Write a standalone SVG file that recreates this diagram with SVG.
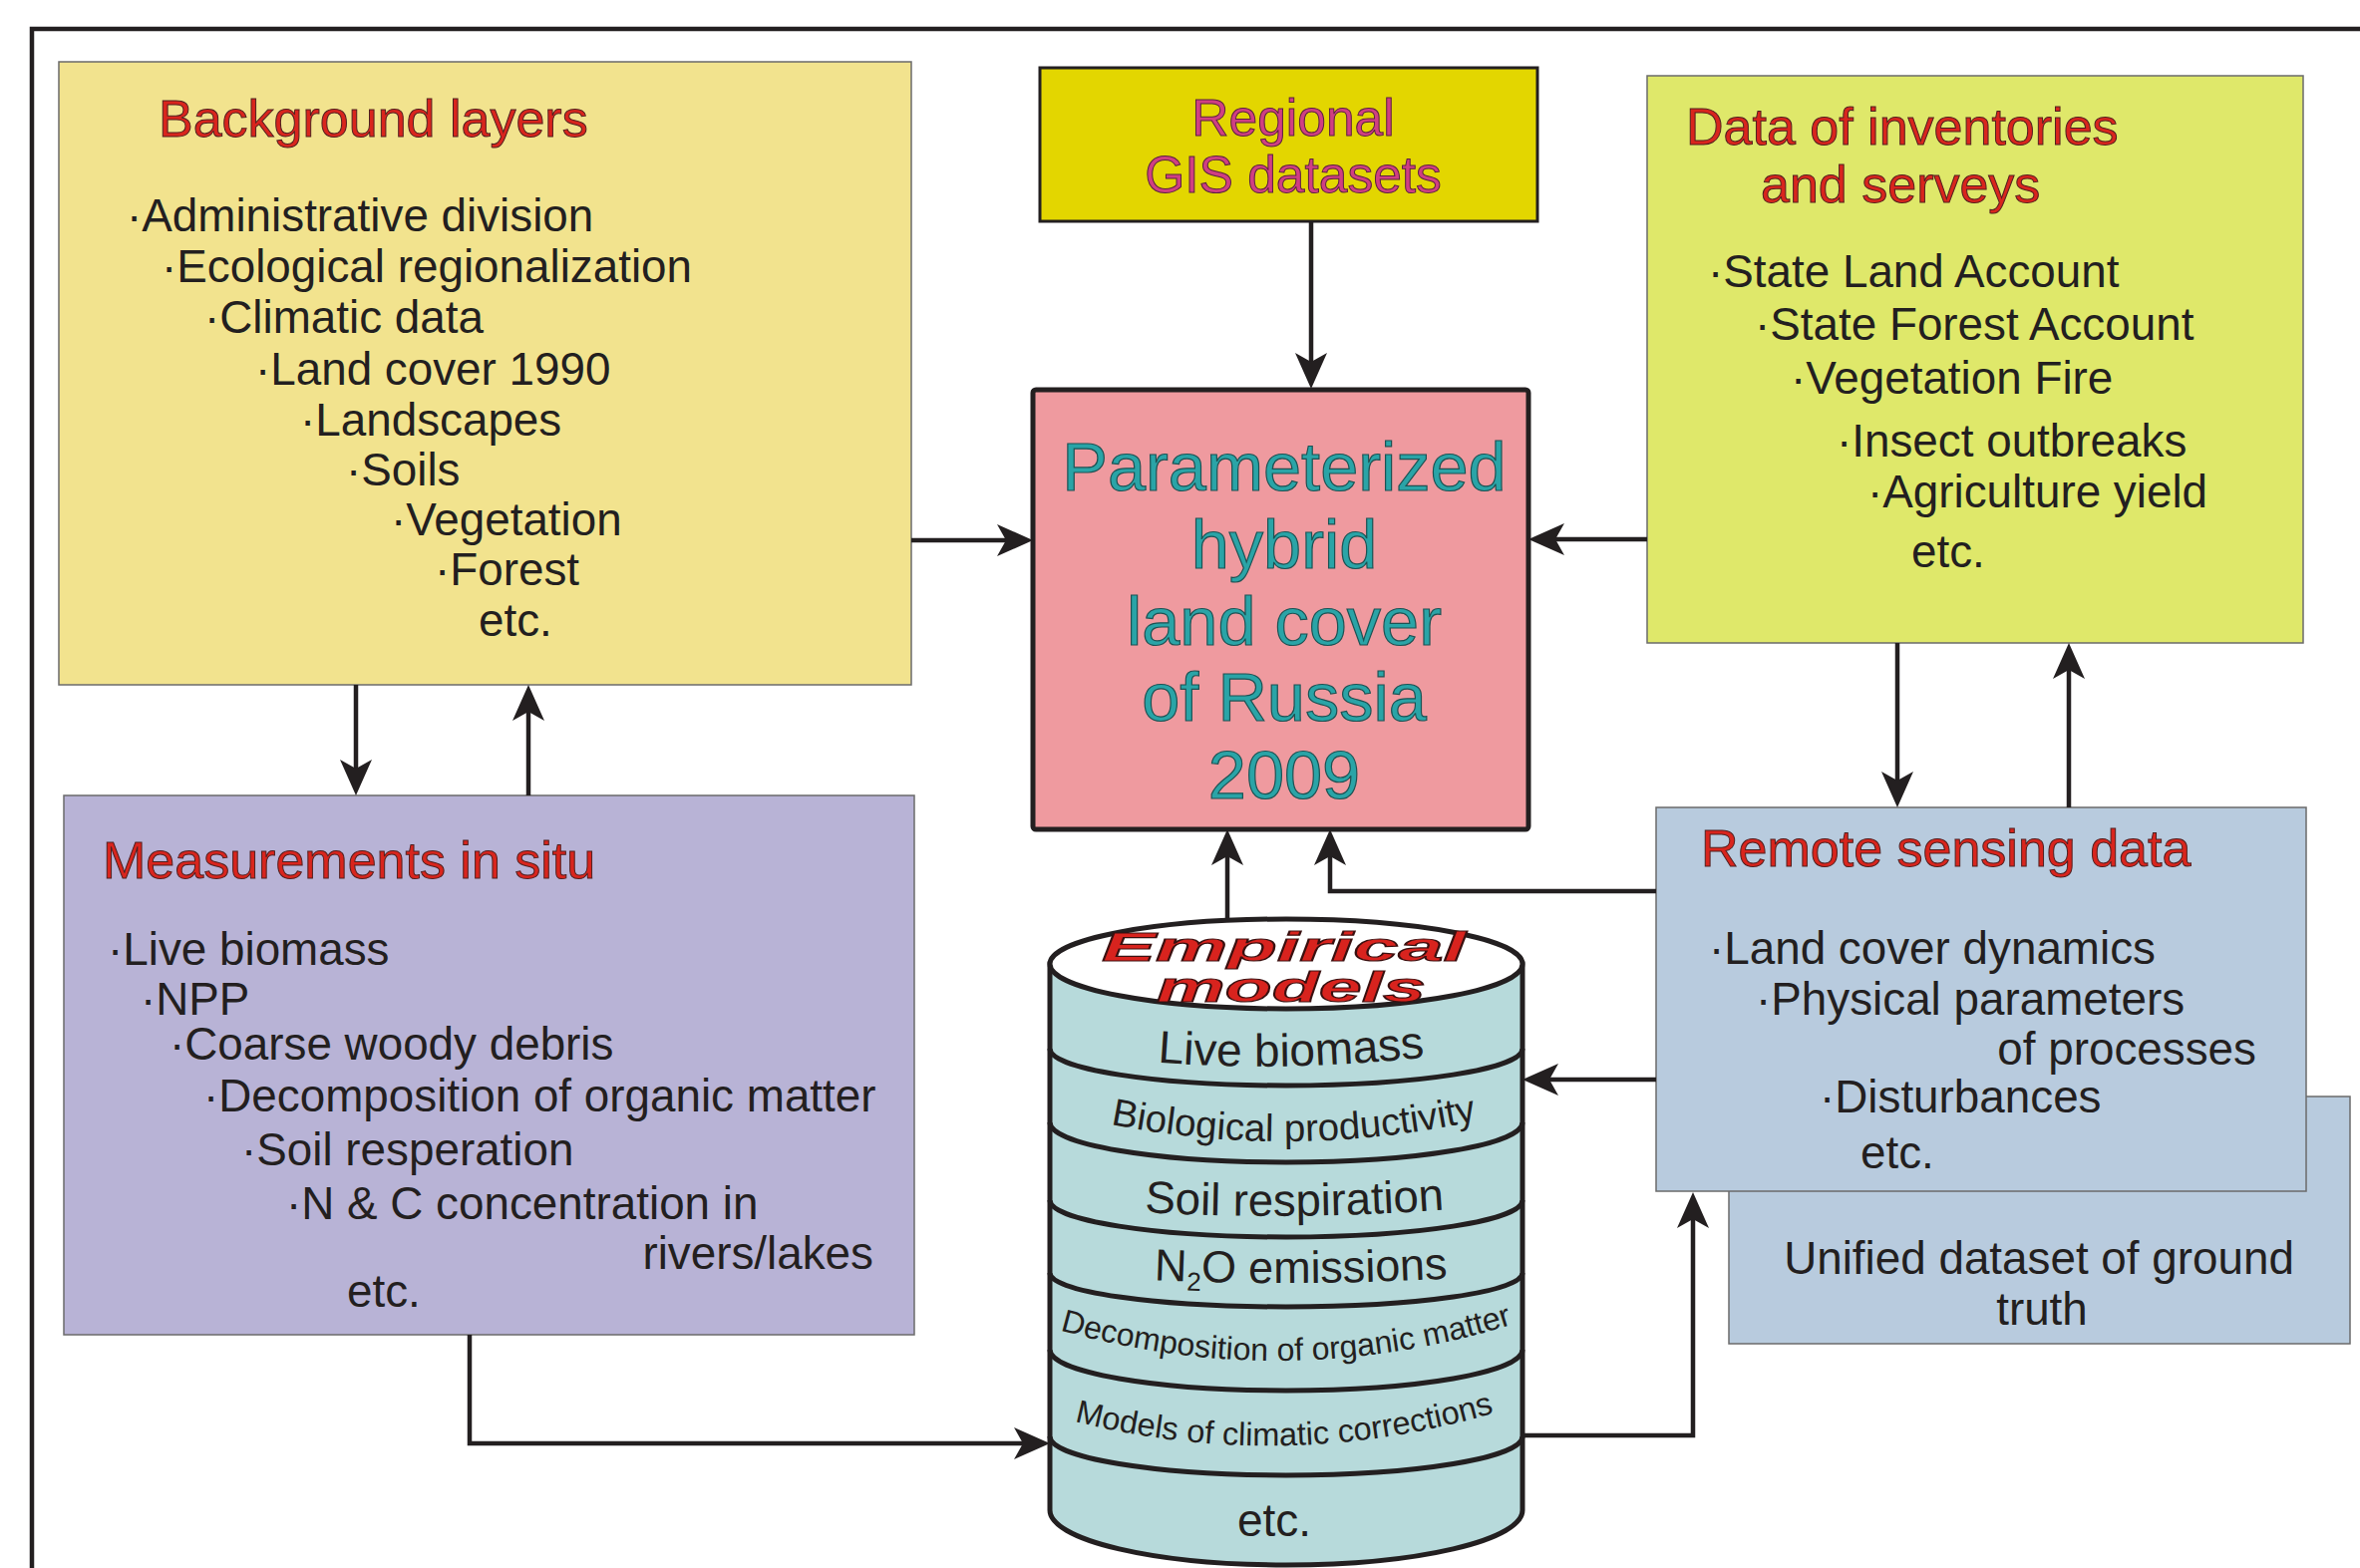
<svg xmlns="http://www.w3.org/2000/svg" width="2367" height="1573" viewBox="0 0 2367 1573">
<style>
.t{font-family:"Liberation Sans",Arial,sans-serif;fill:#231F20}
.title{font-size:52px;fill:#D9251D;stroke:#4d1f1f;stroke-width:1}
.item{font-size:45.8px}
.item45{font-size:45.8px}
.thin{stroke:#6b6b6b;stroke-width:1.5}
.conn{fill:none;stroke:#231F20;stroke-width:4.5}
.cyl{stroke:#231F20;stroke-width:5}
.sep{fill:none;stroke:#231F20;stroke-width:5}
.ctr{font-size:68.5px;fill:#2AA4A7;stroke:#1d5253;stroke-width:1.2;text-anchor:middle}
.gis{font-size:51.5px;fill:#D03F82;stroke:#5a2040;stroke-width:1;text-anchor:middle}
.emp{font-weight:bold;font-style:italic;fill:#D8231E;stroke:#3a1010;stroke-width:1.2}
</style>
<defs>
<marker id="ah" markerUnits="userSpaceOnUse" viewBox="-38 -18 40 36" markerWidth="40" markerHeight="36" refX="-12" refY="0" orient="auto">
<path d="M0,0 L-36,-16 L-27,0 L-36,16 Z" fill="#231F20"/>
</marker>
<path id="p-live" d="M1140,1064 Q1290,1078 1450,1058"/>
<path id="p-bio" d="M1095,1124 Q1297,1168 1500,1120"/>
<path id="p-soil" d="M1126,1215 Q1296,1226 1471,1212"/>
<path id="p-n2o" d="M1130,1283 Q1300,1292 1480,1281"/>
<path id="p-dec" d="M1058,1333 Q1290,1400 1522,1327"/>
<path id="p-mod" d="M1066,1423 Q1288,1482 1510,1414"/>
</defs>

<rect id="frame" x="32" y="29" width="2400" height="1600" fill="none" stroke="#231F20" stroke-width="4.5"/>

<g id="background-layers">
<rect x="59" y="62" width="855" height="625" fill="#F2E38E" class="thin"/>
<text class="t title" x="159" y="137">Background layers</text>
<text class="t item" x="127" y="232">·Administrative division</text>
<text class="t item" x="162" y="283">·Ecological regionalization</text>
<text class="t item" x="205" y="334">·Climatic data</text>
<text class="t item" x="256" y="386">·Land cover 1990</text>
<text class="t item" x="301" y="437">·Landscapes</text>
<text class="t item" x="347" y="487">·Soils</text>
<text class="t item" x="392" y="537">·Vegetation</text>
<text class="t item" x="436" y="587">·Forest</text>
<text class="t item" x="480" y="638">etc.</text>
</g>

<g id="regional-gis">
<rect x="1043" y="68" width="499" height="154" fill="#E3D600" stroke="#231F20" stroke-width="3"/>
<text class="t gis" x="1297" y="136">Regional</text>
<text class="t gis" x="1297" y="193">GIS datasets</text>
</g>

<g id="inventories">
<rect x="1652" y="76" width="658" height="569" fill="#DFE86A" class="thin"/>
<text class="t title" x="1691" y="145">Data of inventories</text>
<text class="t title" x="1766" y="203">and serveys</text>
<text class="t item" x="1713" y="288">·State Land Account</text>
<text class="t item" x="1760" y="341">·State Forest Account</text>
<text class="t item" x="1796" y="395">·Vegetation Fire</text>
<text class="t item" x="1842" y="458">·Insect outbreaks</text>
<text class="t item" x="1873" y="509">·Agriculture yield</text>
<text class="t item" x="1917" y="569">etc.</text>
</g>

<g id="land-cover">
<rect x="1036" y="391" width="497" height="441" rx="3" fill="#EF9A9F" stroke="#231F20" stroke-width="5"/>
<text class="t ctr" x="1288" y="492">Parameterized</text>
<text class="t ctr" x="1288" y="570">hybrid</text>
<text class="t ctr" x="1288" y="647">land cover</text>
<text class="t ctr" x="1288" y="723">of Russia</text>
<text class="t ctr" x="1288" y="801">2009</text>
</g>

<g id="measurements">
<rect x="64" y="798" width="853" height="541" fill="#B8B3D6" class="thin"/>
<text class="t title" x="103" y="881">Measurements in situ</text>
<text class="t item45" x="108" y="968">·Live biomass</text>
<text class="t item45" x="141" y="1018">·NPP</text>
<text class="t item45" x="170" y="1063">·Coarse woody debris</text>
<text class="t item45" x="204" y="1115">·Decomposition of organic matter</text>
<text class="t item45" x="242" y="1169">·Soil resperation</text>
<text class="t item45" x="287" y="1223">·N &amp; C concentration in</text>
<text class="t item45" x="876" y="1273" text-anchor="end">rivers/lakes</text>
<text class="t item45" x="348" y="1311">etc.</text>
</g>

<g id="ground-truth">
<rect x="1734" y="1100" width="623" height="248" fill="#B8CBDE" class="thin"/>
<text class="t item45" x="2045" y="1278" text-anchor="middle">Unified dataset of ground</text>
<text class="t item45" x="2048" y="1329" text-anchor="middle">truth</text>
</g>

<g id="remote-sensing">
<rect x="1661" y="810" width="652" height="385" fill="#B8CBDE" class="thin"/>
<text class="t title" x="1706" y="869">Remote sensing data</text>
<text class="t item45" x="1714" y="967">·Land cover dynamics</text>
<text class="t item45" x="1761" y="1018">·Physical parameters</text>
<text class="t item45" x="2263" y="1068" text-anchor="end">of processes</text>
<text class="t item45" x="1825" y="1116">·Disturbances</text>
<text class="t item45" x="1866" y="1172">etc.</text>
</g>

<g id="empirical-models">
<path class="cyl" d="M1053,967 V1515 A237,55 0 0 0 1527,1515 V967 Z" fill="#B7DADB"/>
<ellipse class="cyl" cx="1290" cy="967" rx="237" ry="45" fill="#FFFFFF"/>
<path class="sep" d="M1053,1052 A237,37 0 0 0 1527,1052"/>
<path class="sep" d="M1053,1126 A237,40 0 0 0 1527,1126"/>
<path class="sep" d="M1053,1204 A237,37 0 0 0 1527,1204"/>
<path class="sep" d="M1053,1277 A237,34 0 0 0 1527,1277"/>
<path class="sep" d="M1053,1354 A237,41 0 0 0 1527,1354"/>
<path class="sep" d="M1053,1441 A237,39 0 0 0 1527,1441"/>
<text class="t emp" x="1105" y="964" font-size="40" textLength="365" lengthAdjust="spacingAndGlyphs">Empirical</text>
<text class="t emp" x="1160" y="1005" font-size="42" textLength="270" lengthAdjust="spacingAndGlyphs">models</text>
<text class="t" font-size="46"><textPath href="#p-live" startOffset="50%" text-anchor="middle">Live biomass</textPath></text>
<text class="t" font-size="38.5"><textPath href="#p-bio" startOffset="50%" text-anchor="middle">Biological productivity</textPath></text>
<text class="t" font-size="45.5"><textPath href="#p-soil" startOffset="50%" text-anchor="middle">Soil respiration</textPath></text>
<text class="t" font-size="45"><textPath href="#p-n2o" startOffset="50%" text-anchor="middle">N<tspan font-size="26" dy="9">2</tspan><tspan dy="-9">O emissions</tspan></textPath></text>
<text class="t" font-size="32"><textPath href="#p-dec" startOffset="50%" text-anchor="middle">Decomposition of organic matter</textPath></text>
<text class="t" font-size="32.5"><textPath href="#p-mod" startOffset="50%" text-anchor="middle">Models of climatic corrections</textPath></text>
<text class="t" font-size="46" x="1278" y="1541" text-anchor="middle">etc.</text>
</g>

<g id="connectors">
<path class="conn" d="M1315,222 V378" marker-end="url(#ah)"/>
<path class="conn" d="M914,542 H1024" marker-end="url(#ah)"/>
<path class="conn" d="M1652,541 H1545" marker-end="url(#ah)"/>
<path class="conn" d="M357,687 V786" marker-end="url(#ah)"/>
<path class="conn" d="M530,798 V699" marker-end="url(#ah)"/>
<path class="conn" d="M1903,645 V798" marker-end="url(#ah)"/>
<path class="conn" d="M2075,810 V657" marker-end="url(#ah)"/>
<path class="conn" d="M1231,922 V844" marker-end="url(#ah)"/>
<path class="conn" d="M1661,894 H1334 V844" marker-end="url(#ah)"/>
<path class="conn" d="M1661,1083 H1539" marker-end="url(#ah)"/>
<path class="conn" d="M471,1339 V1448 H1041" marker-end="url(#ah)"/>
<path class="conn" d="M1527,1440 H1698 V1208" marker-end="url(#ah)"/>
</g>
</svg>
